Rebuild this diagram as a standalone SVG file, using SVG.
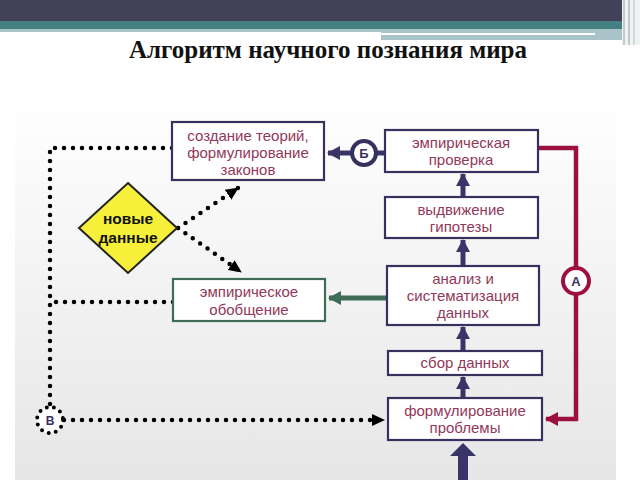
<svg xmlns="http://www.w3.org/2000/svg" width="640" height="480" viewBox="0 0 640 480">
<defs>
<linearGradient id="bg" x1="0" y1="0" x2="0" y2="1">
<stop offset="0" stop-color="#ffffff"/>
<stop offset="1" stop-color="#e6e6e6"/>
</linearGradient>
<marker id="hn" markerUnits="userSpaceOnUse" markerWidth="16" markerHeight="16" refX="12" refY="8" orient="auto"><path d="M0,1 L13,8 L0,15 Z" fill="#3a3568"/></marker>
<marker id="hg" markerUnits="userSpaceOnUse" markerWidth="16" markerHeight="16" refX="12" refY="8" orient="auto"><path d="M0,1 L13,8 L0,15 Z" fill="#3e6c57"/></marker>
<marker id="hr" markerUnits="userSpaceOnUse" markerWidth="16" markerHeight="16" refX="12" refY="8" orient="auto"><path d="M0,1 L13,8 L0,15 Z" fill="#9c1040"/></marker>
<marker id="hk" markerUnits="userSpaceOnUse" markerWidth="16" markerHeight="16" refX="12" refY="8" orient="auto"><path d="M0,2 L13,8 L0,14 Z" fill="#000"/></marker>
</defs>
<style>
.box{fill:#fff;stroke:#37315f;stroke-width:2.2}
.gbox{fill:#fff;stroke:#3e6c57;stroke-width:2.2}
.t{font-family:"Liberation Sans",Arial,sans-serif;font-size:15px;fill:#92385a;text-anchor:middle}
.nav{stroke:#3a3568;stroke-width:5;fill:none}
.dot{stroke:#000;stroke-width:4.5;stroke-linecap:round;fill:none}
</style>
<rect width="640" height="480" fill="#fff"/>
<rect x="15" y="95" width="601" height="385" fill="url(#bg)"/>
<!-- header bars -->
<rect x="0" y="0" width="622" height="21" fill="#434157"/>
<rect x="0" y="21" width="622" height="8" fill="#447f81"/>
<rect x="0" y="29" width="381" height="3" fill="#a8c4c8"/>
<rect x="381" y="29" width="241" height="11" fill="#a9c3c8"/>
<rect x="381" y="33" width="214" height="2" fill="#ffffff"/>
<rect x="622" y="0" width="18" height="45" fill="#eef2f3"/>
<rect x="623" y="0" width="2" height="45" fill="#c4cacc"/>
<rect x="628" y="0" width="2" height="45" fill="#c4cacc"/>
<rect x="633" y="0" width="2" height="45" fill="#d4d8d9"/>
<text x="328" y="58" font-family="'Liberation Serif','Times New Roman',serif" font-weight="bold" font-size="25" text-anchor="middle" fill="#111">Алгоритм научного познания мира</text>

<g id="connectors">
<path class="dot" d="M172,148 H50 V406" stroke-dasharray="0 9"/>
<path class="dot" d="M173,302 H50" stroke-dasharray="0 9"/>
<path class="dot" d="M64,420 H376" stroke-dasharray="0 9"/>
<path d="M372,414 L385,420 L372,426 Z" fill="#000"/>
<path class="dot" d="M178,228 L238,188" stroke-dasharray="0 9" marker-end="url(#hk)"/>
<path class="dot" d="M178,228 L241,272" stroke-dasharray="0 9" marker-end="url(#hk)"/>
<path class="nav" d="M463,266 V240" marker-end="url(#hn)"/>
<path class="nav" d="M463,197 V174" marker-end="url(#hn)"/>
<path class="nav" d="M463,351 V327" marker-end="url(#hn)"/>
<path class="nav" d="M463,398 V377" marker-end="url(#hn)"/>
<path d="M463,480 V455" stroke="#3a3568" stroke-width="10"/>
<path d="M450,456 L463,443 L476,456 Z" fill="#3a3568"/>
<path d="M538,148 H576 V419 H546" stroke="#9c1040" stroke-width="4.5" fill="none" marker-end="url(#hr)"/>
<path d="M387,298 H329" stroke="#3e6c57" stroke-width="5" fill="none" marker-end="url(#hg)"/>
<path d="M385,153 H376" class="nav" stroke-width="4"/>
<path d="M352,153 H328" class="nav" stroke-width="4" marker-end="url(#hn)"/>
</g>

<g id="n-teorii">
<rect class="box" x="172" y="122" width="152" height="58"/>
<text class="t" x="248" y="141">создание теорий,</text>
<text class="t" x="248" y="158">формулирование</text>
<text class="t" x="248" y="175">законов</text>
</g>
<g id="n-novye">
<path d="M128,183 L177,228 L128,273 L79,228 Z" fill="#f6f03a" stroke="#222" stroke-width="2"/>
<text x="128" y="224" font-family="'Liberation Sans',Arial,sans-serif" font-weight="bold" font-size="15.5" text-anchor="middle" fill="#111">новые</text>
<text x="128" y="243" font-family="'Liberation Sans',Arial,sans-serif" font-weight="bold" font-size="15.5" text-anchor="middle" fill="#111">данные</text>
</g>
<g id="n-obobshenie">
<rect class="gbox" x="173" y="279" width="152" height="42"/>
<text class="t" x="249" y="297">эмпирическое</text>
<text class="t" x="249" y="315">обобщение</text>
</g>
<g id="n-proverka">
<rect class="box" x="385" y="130" width="153" height="42"/>
<text class="t" x="461" y="148">эмпирическая</text>
<text class="t" x="461" y="165">проверка</text>
</g>
<g id="n-gipotezy">
<rect class="box" x="385" y="197" width="153" height="41"/>
<text class="t" x="461" y="215">выдвижение</text>
<text class="t" x="461" y="232">гипотезы</text>
</g>
<g id="n-analiz">
<rect class="box" x="387" y="266" width="152" height="59"/>
<text class="t" x="463" y="284">анализ и</text>
<text class="t" x="463" y="301">систематизация</text>
<text class="t" x="463" y="318">данных</text>
</g>
<g id="n-sbor">
<rect class="box" x="388" y="351" width="154" height="24"/>
<text class="t" x="465" y="368">сбор данных</text>
</g>
<g id="n-problema">
<rect class="box" x="388" y="398" width="154" height="42"/>
<text class="t" x="465" y="416">формулирование</text>
<text class="t" x="465" y="433">проблемы</text>
</g>
<g id="n-b">
<circle cx="364" cy="153" r="12" fill="#fff" stroke="#37315f" stroke-width="4"/>
<text x="364" y="158" font-family="'Liberation Sans',Arial,sans-serif" font-weight="bold" font-size="13" text-anchor="middle" fill="#37315f">Б</text>
</g>
<g id="n-a">
<circle cx="576" cy="281" r="13" fill="#fff" stroke="#9c1040" stroke-width="4"/>
<text x="576" y="286" font-family="'Liberation Sans',Arial,sans-serif" font-weight="bold" font-size="13" text-anchor="middle" fill="#37315f">А</text>
</g>
<g id="n-v">
<circle cx="50" cy="420" r="13" fill="#fff" stroke="#000" stroke-width="4" stroke-linecap="round" stroke-dasharray="0 7.2"/>
<text x="50" y="425" font-family="'Liberation Sans',Arial,sans-serif" font-weight="bold" font-size="12" text-anchor="middle" fill="#37315f">В</text>
</g>
</svg>
